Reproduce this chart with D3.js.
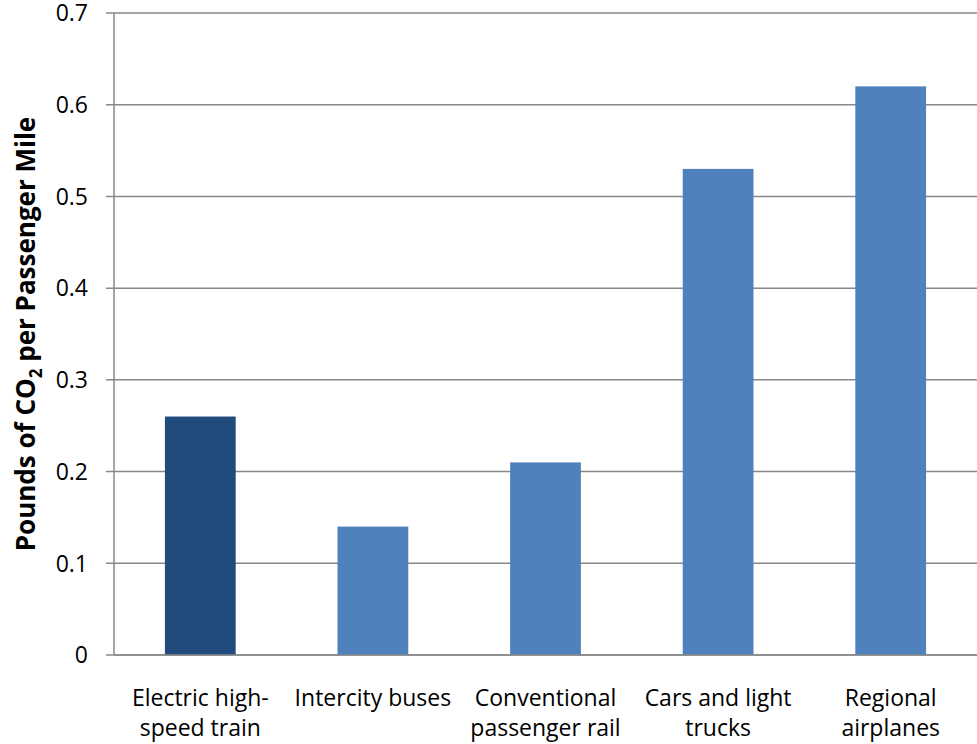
<!DOCTYPE html>
<html>
<head>
<meta charset="utf-8">
<script src="https://cdn.jsdelivr.net/npm/d3@7"></script>
<style>
  body { margin: 0; background: #fff; }
  text { font-family: "Open Sans", "Noto Sans", sans-serif; fill: #000; }
</style>
</head>
<body>
<svg class="co2-chart" width="977" height="744"></svg>
<script>
// modes of travel and CO2 per passenger mile
var categories = [
  ['Electric high-', 'speed train'],
  ['Intercity buses'],
  ['Conventional', 'passenger rail'],
  ['Cars and light', 'trucks'],
  ['Regional', 'airplanes']
];
var values = [0.26, 0.14, 0.21, 0.53, 0.62];
var yTicks = [0, 0.1, 0.2, 0.3, 0.4, 0.5, 0.6, 0.7];

var margin = {top: 13, right: 0, bottom: 89, left: 114};
var width = 977 - margin.left - margin.right;
var height = 744 - margin.top - margin.bottom;

var svg = d3.select('.co2-chart');
var g = svg.append('g')
  .attr('transform', 'translate(' + margin.left + ',' + margin.top + ')');

var x = d3.scaleBand()
  .domain(d3.range(categories.length))
  .range([0, width])
  .paddingInner(0.59)
  .paddingOuter(0.295);

var y = d3.scaleLinear()
  .domain([0, 0.7])
  .range([height, 0]);

// gridlines + ticks
g.selectAll('.grid')
  .data(yTicks)
  .enter().append('line')
  .attr('class', 'grid')
  .attr('x1', -8)
  .attr('x2', width)
  .attr('y1', function(d) { return y(d); })
  .attr('y2', function(d) { return y(d); })
  .attr('stroke', '#888')
  .attr('stroke-width', 1.5);

g.selectAll('.ytick')
  .data(yTicks)
  .enter().append('text')
  .attr('class', 'ytick')
  .attr('x', -26)
  .attr('y', function(d) { return y(d); })
  .attr('dy', '0.36em')
  .attr('text-anchor', 'end')
  .style('font-size', '23px')
  .text(function(d) { return d === 0 ? '0' : d3.format('.1f')(d); });

// y axis line
g.append('line')
  .attr('x1', 0).attr('x2', 0)
  .attr('y1', 0).attr('y2', height)
  .attr('stroke', '#888')
  .attr('stroke-width', 1.5);

// bars
g.selectAll('.bar')
  .data(values)
  .enter().append('rect')
  .attr('class', 'bar')
  .attr('x', function(d, i) { return x(i); })
  .attr('width', x.bandwidth())
  .attr('y', function(d) { return y(d); })
  .attr('height', function(d) { return height - y(d); })
  .attr('fill', function(d, i) { return i === 0 ? '#214A7D' : '#4F81BD'; });

// x axis line on top of bars
g.append('line')
  .attr('x1', 0).attr('x2', width)
  .attr('y1', height).attr('y2', height)
  .attr('stroke', '#888')
  .attr('stroke-width', 1.5);

// category labels
var lab = g.selectAll('.xlab')
  .data(categories)
  .enter().append('text')
  .attr('class', 'xlab')
  .attr('text-anchor', 'middle')
  .attr('transform', function(d, i) {
    return 'translate(' + (x(i) + x.bandwidth() / 2) + ',' + (height + 51) + ')';
  })
  .style('font-size', '23px');

lab.selectAll('tspan')
  .data(function(d) { return d; })
  .enter().append('tspan')
  .attr('x', 0)
  .attr('dy', function(d, i) { return i === 0 ? 0 : '1.32em'; })
  .text(function(d) { return d; });

// y title with subscript
var title = svg.append('text')
  .attr('transform', 'translate(35,' + (margin.top + height / 2) + ') rotate(-90)')
  .attr('text-anchor', 'middle')
  .style('font-size', '26px')
  .style('font-weight', 'bold');
title.append('tspan').text('Pounds of CO');
title.append('tspan').attr('dy', 7).style('font-size', '17px').text('2');
title.append('tspan').attr('dy', -7).text(' per Passenger Mile');
</script>
</body>
</html>
